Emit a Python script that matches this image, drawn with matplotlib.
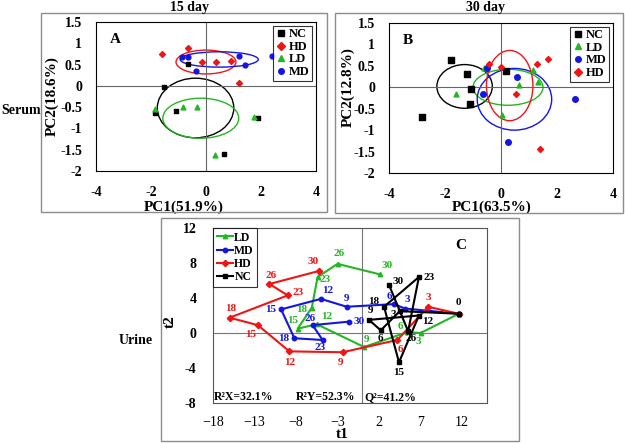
import matplotlib
matplotlib.use("Agg")
import matplotlib.pyplot as plt
from matplotlib.patches import Ellipse, Rectangle
from matplotlib.lines import Line2D

plt.rcParams['font.family'] = ['Liberation Serif', 'DejaVu Serif']
plt.rcParams['font.weight'] = 'bold'
plt.rcParams['axes.labelweight'] = 'bold'
plt.rcParams['axes.unicode_minus'] = False

# ---- data: panel A (serum, 15 day) ----
a_nc_x = [-0.67, -1.51, -1.87, -1.09, 1.89, 0.65]
a_nc_y = [0.52, -0.03, -0.64, -0.60, -0.75, -1.59]
a_hd_x = [-1.61, -0.67, -0.13, 0.37, 0.92, 1.19]
a_hd_y = [0.74, 0.89, 0.57, 0.56, 0.59, 0.07]
a_ld_x = [-1.87, -0.82, -0.34, 1.73, 0.32]
a_ld_y = [-0.54, -0.49, -0.50, -0.72, -1.62]
a_md_x = [-0.88, -0.64, -0.37, 1.21, 1.41, 2.41]
a_md_y = [0.68, 0.68, 0.34, 0.71, 0.48, 0.71]
# ellipses: centre x, centre y, width, height
a_ell_nc = [-0.38, -0.52, 2.78, 1.40]
a_ell_hd = [0.0, 0.56, 2.18, 0.56]
a_ell_ld = [-0.19, -0.76, 2.76, 0.94]
a_ell_md = [0.48, 0.62, 2.84, 0.36]

# ---- data: panel B (serum, 30 day) ----
b_nc_x = [-1.78, -1.21, -1.06, -1.12, -2.82, 0.19]
b_nc_y = [0.63, 0.30, -0.04, -0.40, -0.69, 0.39]
b_ld_x = [-1.60, -0.61, 0.05, 0.65, 1.16, 1.33]
b_ld_y = [-0.16, 0.44, -0.65, 0.05, 0.40, 0.12]
b_md_x = [-0.51, -0.65, 0.56, 0.25, 2.66]
b_md_y = [0.44, -0.16, 0.24, -1.28, -0.28]
b_hd_x = [-0.43, 0.01, 0.53, 1.28, 1.69, 1.39]
b_hd_y = [0.54, 0.47, -0.16, 0.54, 0.65, -1.44]
b_ell_nc = [-1.30, 0.02, 1.98, 1.02]
b_ell_ld = [0.25, 0.0, 2.50, 0.84]
b_ell_md = [0.48, -0.28, 2.66, 1.44]
b_ell_hd = [0.31, 0.04, 1.66, 1.64]

# ---- data: panel C (urine trajectories, day labels) ----
days = [0, 3, 6, 9, 12, 15, 18, 23, 26, 30]
c_ld_x = [11.6, 7.0, 5.4, 0.2, -5.5, -7.8, -6.1, -5.4, -3.0, 2.1]
c_ld_y = [2.2, 0.0, 0.1, -1.6, 1.0, 0.5, 2.9, 6.4, 7.9, 6.7]
c_md_x = [11.6, 5.1, 3.8, -1.9, -5.0, -9.8, -8.2, -4.8, -6.0, -1.6]
c_md_y = [2.2, 2.8, 3.3, 3.0, 3.9, 2.7, -0.6, -0.8, 0.9, 1.3]
c_hd_x = [11.6, 7.9, 4.2, -2.4, -8.8, -12.6, -16.0, -9.0, -11.2, -5.2]
c_hd_y = [2.2, 3.0, -0.8, -2.2, -2.1, 0.9, 1.75, 4.3, 5.6, 7.1]
c_nc_x = [11.6, 4.5, 2.2, 0.8, 6.8, 4.4, 2.6, 6.8, 5.5, 3.2]
c_nc_y = [2.2, 2.5, 0.3, 1.5, 2.0, -3.35, 3.0, 6.4, 0.2, 5.5]
stats = ["R\u00b2X=32.1%", "R\u00b2Y=52.3%", "Q\u00b2=41.2%"]

# label offsets (pixels) for panel C day numbers
off_ld = [None, (-2, -9), (-7, 6), (2, 8), (10, 8), (-5, 8), (-10, -2), (8, -3), (2, 10), (7, 9)]
off_md = [None, (3, 9), (-5, 8), (0, 8), (7, 8), (-10, 0), (-11, 0), (-2, -8), (-3, 7), (10, 0)]
off_hd = [None, (0, 9), (3, -9), (-2, -10), (0, -11), (-7, -9), (1, 9), (10, 3), (2, 9), (-6, 9)]
off_nc = [(0, 11), (-6, -3), (0, -8), (1, 9), (9, -6), (0, -10), (-10, 5), (10, 0), (3, -7), (9, 3)]

W, H = 625, 443
fig = plt.figure(figsize=(W / 100, H / 100), dpi=100)


def rect(l, t, r, b):
    return [l / W, (H - b) / H, (r - l) / W, (b - t) / H]


# outer frames
for l, t, r, b in [(41, 13, 327, 212), (335, 13, 623, 213), (161, 218, 519, 441)]:
    fig.patches.append(Rectangle((l / W, (H - b) / H), (r - l) / W, (b - t) / H,
                                 transform=fig.transFigure, fill=False,
                                 edgecolor='#8c8c8c', linewidth=1.0))

green, blue, red = '#22b822', '#1515e0', '#f01515'


def pca_panel(ax, groups, ells, letter, xlabel, ylabel, xl_pos, yl_pos):
    ax.set_xlim(-4, 4)
    ax.set_ylim(-2, 1.5)
    ax.axhline(0, color='#666666', lw=0.8)
    ax.axvline(0, color='#666666', lw=0.8)
    for (name, xs, ys, c, m, s), (cx, cy, w, h) in zip(groups, ells):
        ax.add_patch(Ellipse((cx, cy), w, h, fill=False, edgecolor=c, lw=1.0))
    handles = []
    for name, xs, ys, c, m, s in groups:
        ax.scatter(xs, ys, marker=m, color=c, s=s, zorder=3)
        handles.append(Line2D([], [], marker=m, color=c, ls='none', markersize=4, label=name))
    leg = ax.legend(handles=handles, loc='upper right', fontsize=9, frameon=True,
                    fancybox=False, edgecolor='black', borderpad=0.2, labelspacing=0.05,
                    handletextpad=0.1, handlelength=1.0, borderaxespad=0.3)
    leg.get_frame().set_linewidth(0.8)
    ax.set_xticks([-4, -2, 0, 2, 4])
    ax.set_yticks([-2, -1.5, -1, -0.5, 0, 0.5, 1, 1.5])
    ax.set_yticklabels(['-2', '-1.5', '-1', '-0.5', '0', '0.5', '1', '1.5'])
    ax.tick_params(length=0, labelsize=10, pad=10)
    ax.tick_params(axis='x', pad=11)
    ax.set_xlabel(xlabel, fontsize=11)
    ax.set_ylabel(ylabel, fontsize=11, va='center')
    ax.xaxis.set_label_coords(*xl_pos)
    ax.yaxis.set_label_coords(*yl_pos)
    ax.xaxis.label.set_va('center')
    ax.text(-3.5, 1.1, letter, fontsize=11, ha='left', va='center')
    for sp in ax.spines.values():
        sp.set_linewidth(0.8)


axA = fig.add_axes(rect(96, 22, 316, 171))
pca_panel(axA,
          [('NC', a_nc_x, a_nc_y, 'black', 's', 10),
           ('HD', a_hd_x, a_hd_y, red, 'D', 9),
           ('LD', a_ld_x, a_ld_y, green, '^', 12),
           ('MD', a_md_x, a_md_y, blue, 'o', 12)],
          [a_ell_nc, a_ell_hd, a_ell_ld, a_ell_md], 'A', 'PC1(51.9%)', 'PC2(18.6%)',
          (0.40, -0.24), (-0.20, 0.50))

axB = fig.add_axes(rect(389, 23, 613, 173))
pca_panel(axB,
          [('NC', b_nc_x, b_nc_y, 'black', 's', 14),
           ('LD', b_ld_x, b_ld_y, green, '^', 12),
           ('MD', b_md_x, b_md_y, blue, 'o', 16),
           ('HD', b_hd_x, b_hd_y, red, 'D', 9)],
          [b_ell_nc, b_ell_ld, b_ell_md, b_ell_hd], 'B', 'PC1(63.5%)', 'PC2(12.8%)',
          (0.46, -0.23), (-0.185, 0.57))

fig.text(190 / W, 1 - 7 / H, '15 day', fontsize=10, ha='center', va='center')
fig.text(485 / W, 1 - 7 / H, '30 day', fontsize=10, ha='center', va='center')
fig.text(21 / W, 1 - 110 / H, 'Serum', fontsize=10, ha='center', va='center')
fig.text(136 / W, 1 - 340 / H, 'Urine', fontsize=10, ha='center', va='center')

# ---- panel C ----
axC = fig.add_axes(rect(213, 228, 487, 403))
axC.set_xlim(-18, 15)
axC.set_ylim(-8, 12)
axC.axhline(0, color='#777777', lw=0.8)
axC.axvline(0, color='#777777', lw=0.8)

series = [('LD', c_ld_x, c_ld_y, green, '^', off_ld),
          ('MD', c_md_x, c_md_y, blue, 'o', off_md),
          ('HD', c_hd_x, c_hd_y, red, 'D', off_hd),
          ('NC', c_nc_x, c_nc_y, 'black', 's', off_nc)]
order = {'LD': 1, 'MD': 2, 'HD': 3, 'NC': 4}
for name, xs, ys, c, m, offs in series:
    axC.plot(xs, ys, color=c, marker=m, markersize=3.2, lw=1.5, label=name, zorder=order[name])
for name, xs, ys, c, m, offs in series:
    for d, x, y, o in zip(days, xs, ys, offs):
        if o is None:
            continue
        axC.annotate(str(d), (x, y), xytext=o, textcoords='offset pixels',
                     ha='center', va='center', fontsize=8, color=c, zorder=6)

leg = axC.legend(loc='upper left', fontsize=8.5, frameon=True, fancybox=False,
                 edgecolor='black', borderpad=0.3, labelspacing=0.1,
                 handletextpad=0.1, handlelength=1.4, borderaxespad=0.0)
leg.get_frame().set_linewidth(0.8)

for x, s in zip([-17.9, -8.0, 0.2], stats):
    axC.text(x, -7.3, s, fontsize=8.5, ha='left', va='center')
axC.text(11.8, 10.0, 'C', fontsize=11, ha='center', va='center')

xt = [-18, -13, -8, -3, 2, 7, 12]
axC.set_xticks(xt)
axC.set_xticklabels([str(t).replace('-', '\u2212') for t in xt], fontweight='normal')
axC.set_yticks([-8, -4, 0, 4, 8, 12])
axC.tick_params(length=0, labelsize=10)
axC.tick_params(axis='x', pad=9)
axC.tick_params(axis='y', pad=12)
axC.set_xlabel('t1', fontsize=11, va='center')
axC.set_ylabel('t2', fontsize=11, va='center')
axC.xaxis.set_label_coords(0.47, -0.18)
axC.yaxis.set_label_coords(-0.157, 0.463)
for sp in axC.spines.values():
    sp.set_linewidth(0.8)
    sp.set_color('#555555')

fig.savefig('out.png', dpi=100)
